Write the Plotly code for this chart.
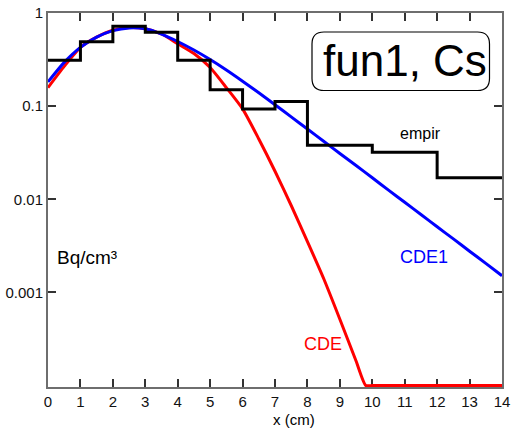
import plotly.graph_objects as go

# Empirical activity profile: bin edges along depth (cm) and value per bin
bin_edges = [0, 1, 2, 3, 4, 5, 6, 7, 8, 10, 12, 14]
empir = [0.31, 0.49, 0.72, 0.62, 0.31, 0.15, 0.093, 0.112, 0.038, 0.032, 0.017]

# CDE1 model curve
cde1_x = [0, 0.5, 1, 1.5, 2, 2.5, 3, 3.5, 4, 4.5, 5, 5.5, 6, 6.5, 7, 7.5,
          8, 8.5, 9, 9.5, 10, 10.5, 11, 11.5, 12, 12.5, 13, 13.5, 14]
cde1_y = [0.182, 0.295, 0.427, 0.550, 0.646, 0.692, 0.676, 0.594, 0.494, 0.400,
          0.316, 0.244, 0.185, 0.139, 0.1035, 0.0767, 0.0568, 0.0420, 0.0310,
          0.0230, 0.0170, 0.01253, 0.00927, 0.00686, 0.00507, 0.00375,
          0.00277, 0.00205, 0.00151]

# CDE model curve (floored at the lower limit of the axis)
cde_x = [0, 0.5, 1, 1.5, 2, 2.5, 3, 3.5, 4, 4.5, 5, 5.5, 6, 6.5, 7, 7.5,
         8, 8.5, 9, 9.5, 9.8, 10, 11, 12, 13, 14]
cde_y = [0.158, 0.267, 0.427, 0.550, 0.653, 0.700, 0.676, 0.595, 0.468, 0.367,
         0.260, 0.158, 0.0933, 0.0444, 0.0200, 0.00857, 0.00351, 0.00141,
         0.000515, 0.000183, 0.0001, 0.0001, 0.0001, 0.0001, 0.0001, 0.0001]

x_ticks = list(range(0, 15))
y_ticks = [0.001, 0.01, 0.1, 1]
y_tick_text = ["0.001", "0.01", "0.1", "1"]

FONT = "Liberation Sans, Arial, Helvetica, sans-serif"

W, H = 511, 431
L, R, T, B = 48, 9, 13, 44
PW, PH = W - L - R, H - T - B


def px_to_paper(px, py):
    return (px - L) / PW, 1 - (py - T) / PH


fig = go.Figure()

fig.add_trace(go.Scatter(
    x=cde_x, y=cde_y, mode="lines",
    line=dict(color="#ff0000", width=3, shape="spline", smoothing=0.6),
    showlegend=False, hoverinfo="skip"))

fig.add_trace(go.Scatter(
    x=cde1_x, y=cde1_y, mode="lines",
    line=dict(color="#0000ff", width=3, shape="spline", smoothing=0.6),
    showlegend=False, hoverinfo="skip"))

fig.add_trace(go.Scatter(
    x=bin_edges, y=empir + [empir[-1]], mode="lines",
    line=dict(color="#000000", width=3, shape="hv"),
    showlegend=False, hoverinfo="skip"))

# rounded label box for the title tag
x0, y0, x1, y1, r = 312, 32, 489.5, 90.5, 12


def P(px, py):
    a, b = px_to_paper(px, py)
    return f"{a:.5f},{b:.5f}"


path = (f"M {P(x0 + r, y0)} L {P(x1 - r, y0)} Q {P(x1, y0)} {P(x1, y0 + r)} "
        f"L {P(x1, y1 - r)} Q {P(x1, y1)} {P(x1 - r, y1)} "
        f"L {P(x0 + r, y1)} Q {P(x0, y1)} {P(x0, y1 - r)} "
        f"L {P(x0, y0 + r)} Q {P(x0, y0)} {P(x0 + r, y0)} Z")
fig.add_shape(type="path", path=path, xref="paper", yref="paper",
              line=dict(color="#000000", width=1.2), fillcolor="rgba(0,0,0,0)")

tx, ty = px_to_paper(405, 60)
fig.add_annotation(x=tx, y=ty, xref="paper", yref="paper", text="fun1, Cs",
                   showarrow=False, font=dict(family=FONT, size=44, color="#000"),
                   xanchor="center", yanchor="middle")

dec = PH / 4.016


def ylog(py):
    return -(py - T) / dec


def xdat(px):
    return (px - L) / (PW / 14)


labels = [
    ("empir", 420, 133, 16, "#000000", "center"),
    ("CDE1", 424, 257, 18, "#0000ff", "center"),
    ("CDE", 323, 344, 18, "#ff0000", "center"),
    ("Bq/cm³", 55, 257, 19, "#000000", "left"),
]
for txt, px, py, sz, col, anc in labels:
    fig.add_annotation(x=xdat(px), y=ylog(py), xref="x", yref="y", text=txt,
                       showarrow=False, font=dict(family=FONT, size=sz, color=col),
                       xanchor=anc, yanchor="middle")

lx, ly = px_to_paper(294, 420)
fig.add_annotation(x=lx, y=ly, xref="paper", yref="paper", text="x (cm)",
                   showarrow=False, font=dict(family=FONT, size=15, color="#000"),
                   xanchor="center", yanchor="middle")

fig.update_xaxes(
    range=[0, 14], tickvals=x_ticks, ticks="inside", ticklen=8, tickwidth=1.5,
    tickcolor="#333333", showline=True, linecolor="#6e6e6e", linewidth=2,
    mirror="ticks", showgrid=False, zeroline=False, layer="below traces",
    automargin=False,
    tickfont=dict(family=FONT, size=15, color="#111111"))

fig.update_yaxes(
    type="log", range=[-4.016, 0], tickvals=y_ticks, ticktext=y_tick_text,
    ticks="inside", ticklen=8, tickwidth=1.5, tickcolor="#333333",
    showline=True, linecolor="#6e6e6e", linewidth=2, mirror="ticks",
    showgrid=False, zeroline=False, layer="below traces", automargin=False,
    tickfont=dict(family=FONT, size=15, color="#111111"))

fig.update_layout(
    width=W, height=H, margin=dict(l=L, r=R, t=T, b=B),
    paper_bgcolor="white", plot_bgcolor="white", showlegend=False)

fig.write_html("out.html")
